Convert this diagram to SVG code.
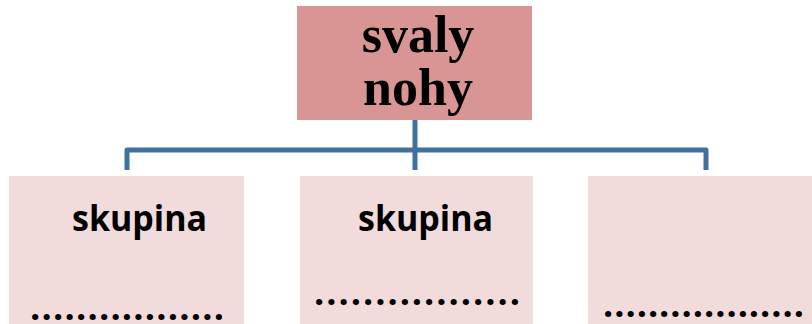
<svg xmlns="http://www.w3.org/2000/svg" width="812" height="324" viewBox="0 0 812 324">
<style>
.top{fill:#d99594;}
.box{fill:#f2dcdb;}
.conn{fill:none;stroke:#41719c;stroke-width:5;stroke-linejoin:round;}
.title{font-family:"Liberation Serif","Times New Roman",serif;font-weight:bold;font-size:52px;fill:#000;text-anchor:middle;}
.lbl{font-family:"Open Sans","Noto Sans",sans-serif;font-weight:bold;font-size:35px;fill:#000;}
.dots{font-family:"Open Sans","Noto Sans",sans-serif;font-weight:bold;font-size:36px;fill:#000;}
</style>
<rect width="812" height="324" fill="#ffffff"/>
<g id="connectors">
<path class="conn" d="M415 120 V170"/>
<path class="conn" d="M127 170 V150 H706 V170"/>
</g>
<g id="root">
<rect class="top" x="297" y="6" width="235" height="114"/>
<text class="title" x="418" y="52">svaly</text>
<text class="title" x="418" y="105">nohy</text>
</g>
<g id="group1">
<rect class="box" x="9" y="176" width="235" height="150"/>
<text class="lbl" x="72" y="231" textLength="135" lengthAdjust="spacingAndGlyphs">skupina</text>
<text class="dots" x="30" y="320" textLength="194" lengthAdjust="spacing">.................</text>
</g>
<g id="group2">
<rect class="box" x="300" y="176" width="233" height="150"/>
<text class="lbl" x="358" y="231" textLength="135" lengthAdjust="spacingAndGlyphs">skupina</text>
<text class="dots" x="314" y="305" textLength="206" lengthAdjust="spacing">.................</text>
</g>
<g id="group3">
<rect class="box" x="588" y="176" width="230" height="150"/>
<text class="dots" x="603" y="317" textLength="201" lengthAdjust="spacing">..................</text>
</g>
</svg>
